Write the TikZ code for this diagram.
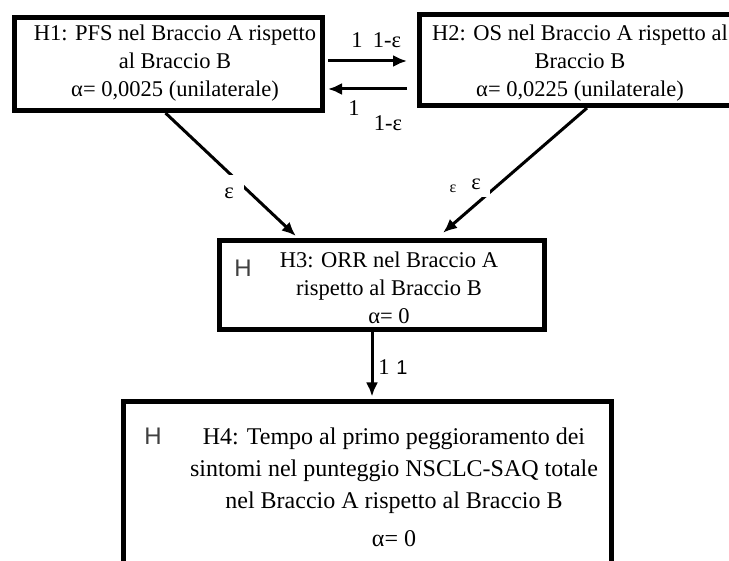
\documentclass[tikz,border=0pt]{standalone}
\usepackage{fontspec}
\setmainfont{Liberation Serif}
\newfontfamily\hsans{Liberation Sans}
\usetikzlibrary{arrows.meta,positioning}

\begin{document}
\begin{tikzpicture}[
  x=1pt,y=-1pt,
  box/.style={draw,line width=5pt,inner sep=0pt},
  txt/.style={align=center,inner sep=0pt,font=\fontsize{22.5}{28}\selectfont},
  arrow/.style={-{Latex[length=14pt,width=12pt]},line width=3pt},
  elbl/.style={fill=white,inner sep=0pt,font=\fontsize{22.5}{28}\selectfont},
  glyph/.style={inner sep=0pt,font=\fontsize{22.5}{28}\selectfont}
]
\useasboundingbox (0,0) rectangle (729,561);
% boxes
\node[box,minimum width=308pt,minimum height=93pt] (h1) at (168.5,64) {};
\node[box,minimum width=323pt,minimum height=91pt] (h2) at (581,60) {};
\node[box,minimum width=325pt,minimum height=89pt] (h3) at (382,285) {};
\node[box,minimum width=488pt,minimum height=200pt] (h4) at (367.5,502) {};
% texts
\node[txt] (h1txt) at (175,63) {H1: PFS nel Braccio A rispetto\\al Braccio B\\α= 0,0025 (unilaterale)};
\node[txt] (h2txt) at (580,63) {H2: OS nel Braccio A rispetto al\\Braccio B\\α= 0,0225 (unilaterale)};
\node[txt] (h3txt) at (389,288) {H3: ORR nel Braccio A\\rispetto al Braccio B\\α= 0};
\node[txt,font=\fontsize{24}{32}\selectfont] (h4txt) at (394,487) {H4: Tempo al primo peggioramento dei\\sintomi nel punteggio NSCLC-SAQ totale\\nel Braccio A rispetto al Braccio B\\[6pt]α= 0};
\node[glyph,font=\hsans\fontsize{24}{28}\selectfont,text=black!75] (h3h) at (243,268) {H};
\node[glyph,font=\hsans\fontsize{24}{28}\selectfont,text=black!75] (h4h) at (153,436) {H};
% connectors
\coordinate (top) at (0,61);
\coordinate (bot) at (0,89);
\coordinate (vert) at (372,0);
\draw[arrow,shorten <=3pt,shorten >=10pt] (h1.east |- top) -- (h2.west |- top);
\draw[arrow,shorten <=10pt,shorten >=3pt] (h2.west |- bot) -- (h1.east |- bot);
\draw[arrow,shorten >=3pt] ([xshift=-3pt]h1.south) -- ([xshift=-84pt]h3.north);
\draw[arrow,shorten >=8pt] ([xshift=6pt]h2.south) -- ([xshift=55pt]h3.north);
\draw[arrow,shorten >=3pt] (h3.south -| vert) -- (h4.north -| vert);
% labels
\node[glyph] (t1a) at (357,40) {1};
\node[glyph] (t1b) at (387,40) {1-ε};
\node[glyph] (b1a) at (354,108) {1};
\node[glyph] (b1b) at (388,123) {1-ε};
\node[elbl,minimum width=30pt,minimum height=36pt,anchor=north west] (e13) at (214,175) {ε};
\node[elbl,minimum width=28pt,minimum height=27pt] (e23) at (476,184) {ε};
\node[glyph,font=\fontsize{16}{20}\selectfont] (e23s) at (453,189) {ε};
\node[glyph] (v1a) at (384,367) {1};
\node[glyph,font=\hsans\fontsize{20}{24}\selectfont] (v1b) at (402,368) {1};
\end{tikzpicture}
\end{document}
